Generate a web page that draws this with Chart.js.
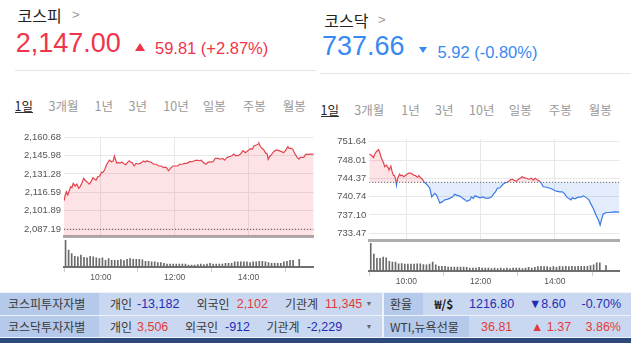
<!DOCTYPE html>
<html><head><meta charset="utf-8">
<script src="https://cdn.jsdelivr.net/npm/chart.js@4.4.1/dist/chart.umd.min.js"></script>
<style>
html,body{margin:0;padding:0;background:#fff;width:631px;height:343px;overflow:hidden;position:relative;font-family:"Noto Sans CJK KR","Noto Sans",sans-serif;}
.t{position:absolute;white-space:nowrap;}
.box{position:absolute;}
canvas{position:absolute;}
</style></head>
<body>
<canvas id="kospiLine" width="318" height="110" style="left:0;top:130px;width:318px;height:110px"></canvas>
<canvas id="kospiVol" width="318" height="50" style="left:0;top:236px;width:318px;height:50px"></canvas>
<canvas id="kosdaqLine" width="316" height="116" style="left:315px;top:130px;width:316px;height:116px"></canvas>
<canvas id="kosdaqVol" width="316" height="50" style="left:315px;top:240px;width:316px;height:50px"></canvas>
<script>
// ---------------- DATA ----------------
const kospiPrev = 2087.19;
const kosdaqPrev = 743.58;
const kospiTicks = [2087.19, 2101.89, 2116.59, 2131.28, 2145.98, 2160.68];
const kosdaqTicks = [733.47, 737.10, 740.74, 744.37, 748.01, 751.64];
const timeTicks = [60, 180, 300];               // minutes after 09:00
const timeTickLabels = ['10:00', '12:00', '14:00'];

// minutes after 09:00
const kospiTime = [0,2,4,6,8,11,13,15,18,21,24,26,29,32,34,37,41,44,47,50,52,55,58,61,63,66,69,71,74,77,80,82,84,86,89,91,94,97,100,102,106,109,111,114,117,120,124,127,129,132,135,138,141,146,150,154,158,162,166,170,173,177,181,185,188,192,196,200,204,208,212,216,220,223,227,231,234,238,242,246,250,254,258,261,265,269,273,276,279,283,287,291,295,299,303,306,309,313,316,317,319,322,325,328,330,332,334,337,341,345,349,354,357,360,364,366,370,372,375,379,382,384,390,393,406];
const kospiValue = [2109.9,2114.5,2117.1,2114.5,2117.1,2121.1,2120.5,2123.8,2121.7,2123.2,2119.8,2121.0,2123.8,2127.8,2126.4,2125.1,2123.2,2125.1,2128.3,2127.0,2126.4,2129.1,2129.6,2132.6,2132.3,2134.4,2138.4,2140.2,2142.3,2141.0,2141.6,2145.5,2142.3,2139.7,2140.5,2139.7,2140.8,2139.7,2138.4,2139.7,2141.8,2140.5,2140.2,2137.6,2139.7,2139.2,2139.7,2140.5,2141.6,2140.8,2141.8,2141.0,2140.8,2139.0,2139.0,2137.6,2137.6,2136.3,2136.6,2133.8,2135.7,2137.6,2137.6,2137.6,2139.0,2139.0,2139.7,2139.7,2141.0,2141.0,2141.8,2142.3,2141.8,2142.3,2140.2,2139.0,2140.5,2140.8,2140.8,2143.7,2143.7,2143.0,2143.7,2142.3,2144.4,2145.0,2145.8,2147.1,2145.8,2145.8,2147.1,2149.8,2148.2,2149.8,2151.4,2150.9,2153.8,2154.3,2155.1,2155.6,2153.5,2151.7,2150.4,2147.7,2147.7,2142.9,2145.0,2146.4,2149.0,2150.4,2149.8,2149.0,2148.2,2149.8,2153.0,2151.7,2151.7,2150.9,2147.7,2144.5,2143.1,2144.5,2144.5,2146.9,2147.0];

const kosdaqTime = [0,4,7,9,12,15,17,20,23,25,28,31,32,35,37,39,41,43,44,46,49,51,53,56,59,61,64,67,70,72,75,78,80,83,86,88,91,95,98,101,103,106,109,112,114,118,122,126,130,135,138,142,147,151,155,158,163,165,168,171,175,179,183,187,192,198,201,204,207,211,214,216,220,225,227,231,234,238,241,245,247,250,254,258,262,265,268,270,273,276,278,281,287,292,296,300,304,308,312,315,319,323,326,328,332,337,343,346,351,355,358,362,364,367,370,373,375,378,383,389,395,404];
const kosdaqValue = [749.2,748.9,748.5,749.2,749.7,750.1,749.5,748.3,747.5,746.7,747.0,746.4,746.0,746.8,745.7,745.0,744.9,744.0,743.0,744.4,745.2,744.9,745.0,744.7,745.0,745.2,745.4,745.4,745.2,745.0,744.9,744.6,744.9,744.5,744.2,743.7,743.4,742.9,742.4,740.7,741.0,741.4,741.0,740.1,739.5,739.7,740.1,740.2,740.4,740.7,741.2,741.0,740.8,740.4,740.1,739.8,740.1,740.7,740.4,740.9,740.7,740.5,740.7,740.5,740.4,740.7,741.3,741.7,742.4,742.5,742.9,743.2,743.5,743.7,744.0,744.2,744.0,743.8,744.2,744.5,744.7,744.5,744.4,744.2,744.4,744.0,744.4,744.2,744.0,743.7,743.4,742.7,742.6,742.4,742.2,741.9,741.8,741.7,741.7,741.4,740.7,740.3,740.1,740.5,740.3,740.6,740.7,740.9,740.5,740.1,739.3,738.4,737.8,736.9,736.2,735.1,736.1,737.3,737.6,737.6,737.7,737.66];

// 5-minute volume slots
const volSlots = ['09:00','09:05','09:10','09:15','09:20','09:25','09:30','09:35','09:40','09:45','09:50','09:55',
'10:00','10:05','10:10','10:15','10:20','10:25','10:30','10:35','10:40','10:45','10:50','10:55',
'11:00','11:05','11:10','11:15','11:20','11:25','11:30','11:35','11:40','11:45','11:50','11:55',
'12:00','12:05','12:10','12:15','12:20','12:25','12:30','12:35','12:40','12:45','12:50','12:55',
'13:00','13:05','13:10','13:15','13:20','13:25','13:30','13:35','13:40','13:45','13:50','13:55',
'14:00','14:05','14:10','14:15','14:20','14:25','14:30','14:35','14:40','14:45','14:50','14:55',
'15:00','15:05','15:10','15:15','15:20'];
const kospiVol = [80,50,40,32,30,35,29,27,32,30,27,25,27,20,25,20,20,20,22,19,23,25,23,23,23,21,17,17,15,15,13,13,11,9,9,9,9,9,9,9,6,6,6,7,9,7,9,11,9,9,9,9,11,11,11,15,15,15,15,15,13,15,15,17,17,15,13,11,11,11,11,15,17,20,20,null,23];
const kosdaqVol = [77,47,35,35,39,37,27,25,25,20,21,19,19,19,19,20,20,18,17,19,25,17,13,13,13,11,11,11,11,11,11,10,8,8,8,10,8,8,8,7,8,7,8,7,8,7,8,8,8,7,8,10,8,10,12,13,12,12,10,12,10,13,12,13,12,13,12,13,13,13,13,15,17,23,23,null,15];

// ---------------- CHARTS ----------------
Chart.defaults.font.family = '"Liberation Sans", Arial, sans-serif';
const RED = '#e2444e', BLUE = '#3b78e6';
const fmt = v => v.toLocaleString('en-US', {minimumFractionDigits: 2, maximumFractionDigits: 2});
const slotMinute = s => { const [h, m] = s.split(':').map(Number); return (h - 9) * 60 + m + 2.5; };

function splitColor(prev, up, down) {
  return (c) => {
    const ch = c.chart, a = ch.chartArea;
    if (!a) return up;
    const y = ch.scales.y.getPixelForValue(prev);
    let t = (y - a.top) / (a.bottom - a.top);
    t = Math.min(1, Math.max(0, t));
    const g = ch.ctx.createLinearGradient(0, a.top, 0, a.bottom);
    g.addColorStop(0, up); g.addColorStop(t, up); g.addColorStop(t, down); g.addColorStop(1, down);
    return g;
  };
}

function lineChart(id, times, values, prev, ticks, yMin, yMax, xMax, yW, pad, fill) {
  const pts = times.map((t, i) => ({x: t, y: values[i]}));
  return new Chart(document.getElementById(id), {
    type: 'line',
    data: {datasets: [
      {data: pts, borderColor: splitColor(prev, RED, BLUE), borderWidth: 1.2, pointRadius: 0, tension: 0, fill: fill},
      {data: [{x: 0, y: prev}, {x: xMax, y: prev}], borderColor: '#444', borderWidth: 1, borderDash: [1, 2], pointRadius: 0, fill: false}
    ]},
    options: {
      animation: false, responsive: false, maintainAspectRatio: false,
      layout: {padding: pad},
      plugins: {legend: {display: false}, tooltip: {enabled: false}},
      scales: {
        x: {type: 'linear', min: 0, max: xMax,
            afterBuildTicks: s => { s.ticks = timeTicks.map(v => ({value: v})); },
            ticks: {display: false},
            grid: {color: '#e8e8e8', drawTicks: false},
            border: {display: true, color: '#adadad', width: 3},
            afterFit: s => { s.height = 2; s.paddingLeft = 0; s.paddingRight = 0; }},
        y: {min: yMin, max: yMax,
            afterBuildTicks: s => { s.ticks = ticks.map(v => ({value: v})); },
            ticks: {callback: v => fmt(v), font: {size: 9.5}, color: '#555', padding: 3},
            grid: {color: '#e8e8e8', drawTicks: false},
            border: {display: false},
            afterFit: s => { s.width = yW; s.paddingTop = 0; s.paddingBottom = 0; }}
      }
    }
  });
}

function volChart(id, vols, yMax, xMax, pad) {
  const pts = [];
  volSlots.forEach((s, i) => { if (vols[i] !== null) pts.push({x: slotMinute(s), y: vols[i]}); });
  return new Chart(document.getElementById(id), {
    type: 'bar',
    data: {datasets: [{data: pts, backgroundColor: '#6a6a6a', barThickness: 1, borderWidth: 0}]},
    options: {
      animation: false, responsive: false, maintainAspectRatio: false,
      layout: {padding: pad},
      plugins: {legend: {display: false}, tooltip: {enabled: false}},
      scales: {
        x: {type: 'linear', min: 0, max: xMax, offset: false,
            afterBuildTicks: s => { s.ticks = timeTicks.map(v => ({value: v})); },
            ticks: {callback: (v) => timeTickLabels[timeTicks.indexOf(v)], font: {size: 8.5}, color: '#555', padding: 1, maxRotation: 0, autoSkip: false},
            grid: {drawOnChartArea: false, drawTicks: true, tickLength: 5, color: '#cfcfcf'},
            border: {display: true, color: '#707070', width: 2},
            afterFit: s => { s.height = 19; s.paddingLeft = 0; s.paddingRight = 0; }},
        y: {display: false, min: 0, max: yMax}
      }
    }
  });
}

lineChart('kospiLine', kospiTime, kospiValue, kospiPrev, kospiTicks, 2081.3, 2160.68, 406, 64,
  {left: 0, right: 4.3, top: 7, bottom: 1.3},
  {target: 'start', above: 'rgba(240,60,75,0.14)', below: 'rgba(240,60,75,0.14)'});
lineChart('kosdaqLine', kosdaqTime, kosdaqValue, kosdaqPrev, kosdaqTicks, 732.0, 752.18, 404, 54.2,
  {left: 0, right: 11.7, top: 9, bottom: 3.3},
  {target: {value: kosdaqPrev}, above: 'rgba(240,60,75,0.14)', below: 'rgba(60,120,230,0.14)'});
volChart('kospiVol', kospiVol, 81, 406, {left: 64, right: 4.3, top: 3.7, bottom: 0});
volChart('kosdaqVol', kosdaqVol, 78, 404, {left: 54.2, right: 11.7, top: 3, bottom: 0});

// ---------------- TEXT ----------------
function T(x, y, text, css) {
  const d = document.createElement('div');
  d.className = 't';
  d.textContent = text;
  d.style.cssText += `left:${x}px;top:${y}px;` + (css || '');
  document.body.appendChild(d);
  return d;
}
function B(x, y, w, h, css) {
  const d = document.createElement('div');
  d.className = 'box';
  d.style.cssText = `left:${x}px;top:${y}px;width:${w}px;height:${h}px;` + css;
  document.body.appendChild(d);
  return d;
}
const KR = 'font-family:"Noto Sans CJK KR",sans-serif;';
const LS = 'font-family:"Liberation Sans",Arial,sans-serif;';
const PRED = '#f0344c', PBLUE = '#3a89f0';

// headers
T(17.5, 7, '코스피', KR + 'font-size:16px;line-height:16px;color:#222;');
T(72, 7, '>', LS + 'font-size:13px;line-height:16px;color:#999;');
T(15.7, 29.9, '2,147.00', LS + `font-size:27px;line-height:27px;color:${PRED};`);
B(135, 42.7, 0, 0, `border-left:5.5px solid transparent;border-right:5.5px solid transparent;border-bottom:8px solid ${PRED};`);
T(155, 39.8, '59.81 (+2.87%)', LS + `font-size:16.5px;line-height:16px;color:${PRED};`);
B(15, 70, 301, 1, 'background:#e6e6e6;');

T(324.2, 11.5, '코스닥', KR + 'font-size:16px;line-height:16px;color:#222;');
T(378, 11.5, '>', LS + 'font-size:13px;line-height:16px;color:#999;');
T(322, 33.2, '737.66', LS + `font-size:27px;line-height:27px;color:${PBLUE};`);
B(419, 46.7, 0, 0, `border-left:4.7px solid transparent;border-right:4.7px solid transparent;border-top:6.7px solid ${PBLUE};`);
T(437.5, 43.6, '5.92 (-0.80%)', LS + `font-size:16.5px;line-height:16px;color:${PBLUE};`);
B(320, 73, 311, 1, 'background:#e6e6e6;');

// tabs
const tabs = ['1일', '3개월', '1년', '3년', '10년', '일봉', '주봉', '월봉'];
const tabXL = [14.5, 48.5, 94.5, 128.5, 163.3, 202.8, 242.8, 282.8];
const tabXR = [320.5, 354.3, 401.3, 435, 469, 508.8, 548.8, 588.8];
tabs.forEach((s, i) => {
  const col = i === 0 ? '#222' : '#9a9a9a';
  T(tabXL[i], 99.6, s, KR + `font-size:12.5px;line-height:12.5px;color:${col};`);
  T(tabXR[i], 103.6, s, KR + `font-size:12.5px;line-height:12.5px;color:${col};`);
});
B(15, 112.3, 17.5, 1, 'background:#333;');
B(321, 116.2, 17.5, 1, 'background:#333;');

// bottom bar
const ROW = '#c9d8f0', CELL = '#b5c9ea', NAVY = '#1f2db3', BRED = '#e23b3b', GR = '#3a3a3a';
B(0, 292, 631, 46, 'background:#eef2f9;');
B(0, 293, 381.7, 22.3, `background:${ROW};`);
B(0, 316.3, 381.7, 21.2, `background:${ROW};`);
B(384, 293, 247, 22.3, `background:${ROW};`);
B(384, 316.3, 247, 21.2, `background:${ROW};`);
B(0, 293, 98.7, 22.3, `background:${CELL};`);
B(0, 316.3, 98.7, 21.2, `background:${CELL};`);
B(384, 293, 38.5, 22.3, `background:${CELL};`);
B(384, 316.3, 84.8, 21.2, `background:${CELL};`);
B(0, 338, 631, 5, 'background:#2e4a7d;');

const r1 = 298, r2 = 321;
const K12 = KR + 'font-size:12px;line-height:12px;';
const N12 = LS + 'font-size:12.5px;line-height:12.5px;';
T(8, r1, '코스피투자자별', K12 + `color:${GR};`);
T(110, r1, '개인', K12 + `color:${GR};`);
T(137, r1, '-13,182', N12 + `color:${NAVY};`);
T(196.5, r1, '외국인', K12 + `color:${GR};`);
T(236.7, r1, '2,102', N12 + `color:${BRED};`);
T(285, r1, '기관계', K12 + `color:${GR};`);
T(325, r1, '11,345', N12 + `color:${BRED};`);
T(365.5, r1 + 2, '▼', LS + 'font-size:7px;line-height:8px;color:#666;');

T(8, r2, '코스닥투자자별', K12 + `color:${GR};`);
T(110, r2, '개인', K12 + `color:${GR};`);
T(137, r2, '3,506', N12 + `color:${BRED};`);
T(185, r2, '외국인', K12 + `color:${GR};`);
T(225, r2, '-912', N12 + `color:${NAVY};`);
T(266.5, r2, '기관계', K12 + `color:${GR};`);
T(306.7, r2, '-2,229', N12 + `color:${NAVY};`);
T(365.5, r2 + 2, '▼', LS + 'font-size:7px;line-height:8px;color:#666;');

T(390, r1, '환율', K12 + `color:${GR};`);
T(434.5, r1, '₩/$', K12 + 'color:#222;font-weight:bold;');
T(469, r1, '1216.80', N12 + `color:${NAVY};`);
T(529, r1, '▼8.60', N12 + `color:${NAVY};`);
T(581.5, r1, '-0.70%', N12 + `color:${NAVY};`);

T(390, r2, 'WTI,뉴욕선물', K12 + `color:${GR};`);
T(481, r2, '36.81', N12 + `color:${BRED};`);
T(531, r2, '▲ 1.37', N12 + `color:${BRED};`);
T(585.5, r2, '3.86%', N12 + `color:${BRED};`);
</script>
</body></html>
